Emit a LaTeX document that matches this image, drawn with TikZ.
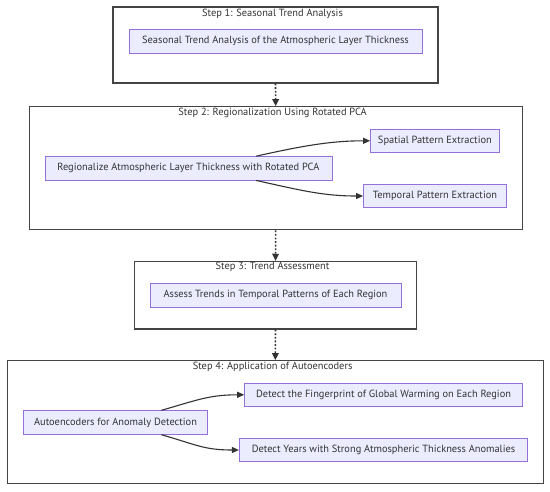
\documentclass[tikz,border=0pt]{standalone}
\usepackage{fontspec}
\setmainfont{PT Sans}
\usetikzlibrary{arrows.meta,calc}
\definecolor{boxfill}{HTML}{ECECFF}
\definecolor{boxline}{HTML}{9370DB}
\definecolor{edgecol}{HTML}{333333}
\definecolor{framecol}{HTML}{444444}
\definecolor{textcol}{HTML}{333333}
\tikzset{
  stepframe/.style={draw=framecol, line width=1.2pt, fill=white, inner sep=0pt},
  steptitle/.style={font=\fontsize{10.4}{12}\selectfont, text=textcol, inner sep=0pt},
  task/.style={draw=boxline, line width=0.8pt, fill=boxfill, inner sep=0pt,
    font=\fontsize{10.4}{12}\selectfont, text=textcol},
  flow/.style={draw=edgecol, line width=1.1pt, -{Triangle[length=7pt,width=6pt]}},
  stepflow/.style={draw=edgecol, line width=1.6pt, dash pattern=on 1.8pt off 1.8pt,
    -{Triangle[length=7pt,width=7pt,line width=0pt]}}
}
\begin{document}
\begin{tikzpicture}[x=1pt,y=-1pt]
\useasboundingbox (0,0) rectangle (550,491);
% step frames
\node[stepframe, minimum width=325pt, minimum height=76pt] (s1) at (275.5,45) {};
\node[stepframe, minimum width=493pt, minimum height=123pt] (s2) at (275.7,168.2) {};
\node[stepframe, minimum width=282pt, minimum height=67.7pt] (s3) at (275.5,295.2) {};
\node[stepframe, minimum width=536pt, minimum height=122.6pt] (s4) at (275.3,422) {};
% titles
\node[steptitle] (t1) at (272.5,14.3) {Step 1: Seasonal Trend Analysis};
\node[steptitle] (t2) at (272.6,113.3) {Step 2: Regionalization Using Rotated PCA};
\node[steptitle] (t3) at (272.5,267.3) {Step 3: Trend Assessment};
\node[steptitle] (t4) at (272.6,367.3) {Step 4: Application of Autoencoders};
% tasks
\node[task, minimum width=293pt, minimum height=24pt] (a1) at (275.5,41.3) {Seasonal Trend Analysis of the Atmospheric Layer Thickness};
\node[task, minimum width=287pt, minimum height=23.4pt] (r) at (188.4,168.3) {Regionalize Atmospheric Layer Thickness with Rotated PCA};
\node[task, minimum width=128.8pt, minimum height=23.5pt] (sp) at (434.9,140.8) {Spatial Pattern Extraction};
\node[task, minimum width=143pt, minimum height=23.4pt] (tp) at (435,196) {Temporal Pattern Extraction};
\node[task, minimum width=251pt, minimum height=24pt] (a3) at (275.5,295.3) {Assess Trends in Temporal Patterns of Each Region};
\node[task, minimum width=184.3pt, minimum height=23.6pt] (ae) at (115.5,422.5) {Autoencoders for Anomaly Detection};
\node[task, minimum width=278pt, minimum height=23.7pt] (fp) at (383.6,394.8) {Detect the Fingerprint of Global Warming on Each Region};
\node[task, minimum width=288.4pt, minimum height=23.4pt] (yr) at (383.5,450) {Detect Years with Strong Atmospheric Thickness Anomalies};
% step connectors
\draw[stepflow] (s1.south) -- (s2.north);
\draw[stepflow] (s2.south) -- (s3.north);
\draw[stepflow] (s3.south) -- (s4.north);
% inner connectors
\draw[flow] ([xshift=67.6pt]r.north) .. controls +(45,-10) and +(-40,0) .. (sp.west);
\draw[flow] ([xshift=67.6pt]r.south) .. controls +(45,10) and +(-40,0) .. (tp.west);
\draw[flow] ([xshift=45.9pt]ae.north) .. controls +(35,-10) and +(-35,0) .. (fp.west);
\draw[flow] ([xshift=45.9pt]ae.south) .. controls +(35,10) and +(-35,0) .. (yr.west);
\end{tikzpicture}
\end{document}
